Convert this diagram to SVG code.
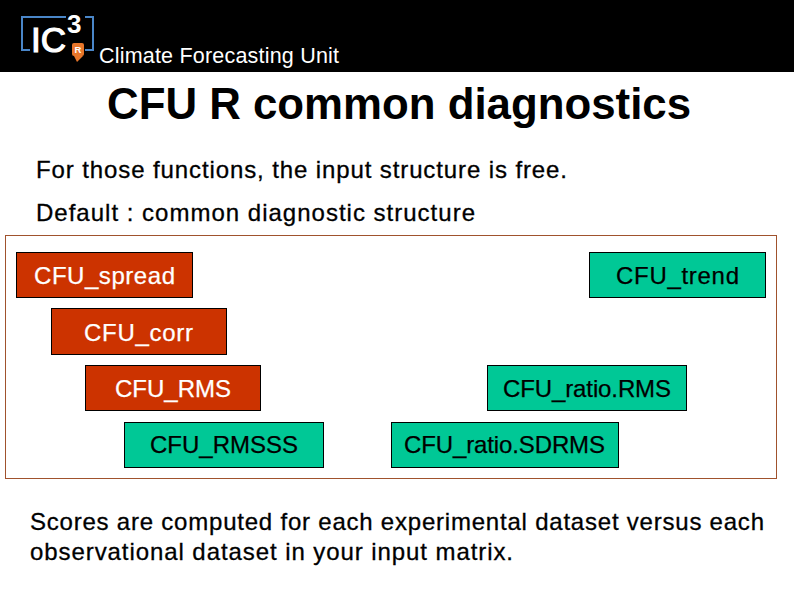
<svg xmlns="http://www.w3.org/2000/svg" width="794" height="595" viewBox="0 0 794 595">
<style>
text{font-family:"Liberation Sans",Arial,sans-serif}
.box{stroke:#000;stroke-width:1}
.r{fill:#cc3300}
.g{fill:#00c896}
.l{font-size:24px;stroke-width:.25px}
.rt{fill:#fff;stroke:#fff}
.gt{fill:#000;stroke:#000}
.b{font-size:24px;fill:#000;stroke:#000;stroke-width:.3px}
</style>
<rect width="794" height="595" fill="#fff"/>
<rect width="794" height="72" fill="#000"/>
<g id="logo">
<path d="M30 50H22V17H66M85 17H93V50H85" fill="none" stroke="#4a86c8" stroke-width="2"/>
<text x="31" y="52" font-size="35" fill="#fff" stroke="#fff" stroke-width="1.200">IC</text>
<text x="67" y="33" font-size="26" font-weight="bold" fill="#fff">3</text>
<rect x="72" y="43" width="12" height="13" rx="2" fill="#e8762a"/>
<text x="74.500" y="53" font-size="9.500" font-weight="bold" fill="#fff">R</text>
<path d="M74 56H83L77 62Z" fill="#e8762a"/>
</g>
<text x="99" y="63" font-size="21.500" fill="#fff" textLength="240">Climate Forecasting Unit</text>
<text x="107" y="119" font-size="43.800" font-weight="bold" textLength="584" fill="#000">CFU R common diagnostics</text>
<text class="b" x="36" y="178" textLength="531">For those functions, the input structure is free.</text>
<text class="b" x="36" y="221" textLength="439">Default : common diagnostic structure</text>
<rect id="frame" x="5.500" y="235.500" width="771" height="243" fill="#fff" stroke="#a0522d" stroke-width="1"/>
<g id="n1"><rect class="box r" x="16.500" y="252.500" width="176" height="45"/><text class="l rt" x="34" y="284" textLength="141">CFU_spread</text></g>
<g id="n2"><rect class="box g" x="589.500" y="252.500" width="176" height="45"/><text class="l gt" x="616" y="284" textLength="123">CFU_trend</text></g>
<g id="n3"><rect class="box r" x="51.500" y="308.500" width="175" height="46"/><text class="l rt" x="84" y="341" textLength="109">CFU_corr</text></g>
<g id="n4"><rect class="box r" x="85.500" y="365.500" width="175" height="45"/><text class="l rt" x="115" y="397" textLength="116">CFU_RMS</text></g>
<g id="n5"><rect class="box g" x="487.500" y="365.500" width="199" height="45"/><text class="l gt" x="503" y="397" textLength="168">CFU_ratio.RMS</text></g>
<g id="n6"><rect class="box g" x="124.500" y="422.500" width="199" height="45"/><text class="l gt" x="150" y="453" textLength="148">CFU_RMSSS</text></g>
<g id="n7"><rect class="box g" x="391.500" y="422.500" width="227" height="45"/><text class="l gt" x="404" y="453" textLength="201">CFU_ratio.SDRMS</text></g>
<g id="connectors"></g>
<text class="b" x="30" y="530" textLength="734">Scores are computed for each experimental dataset versus each</text>
<text class="b" x="30" y="560" textLength="483">observational dataset in your input matrix.</text>
</svg>
